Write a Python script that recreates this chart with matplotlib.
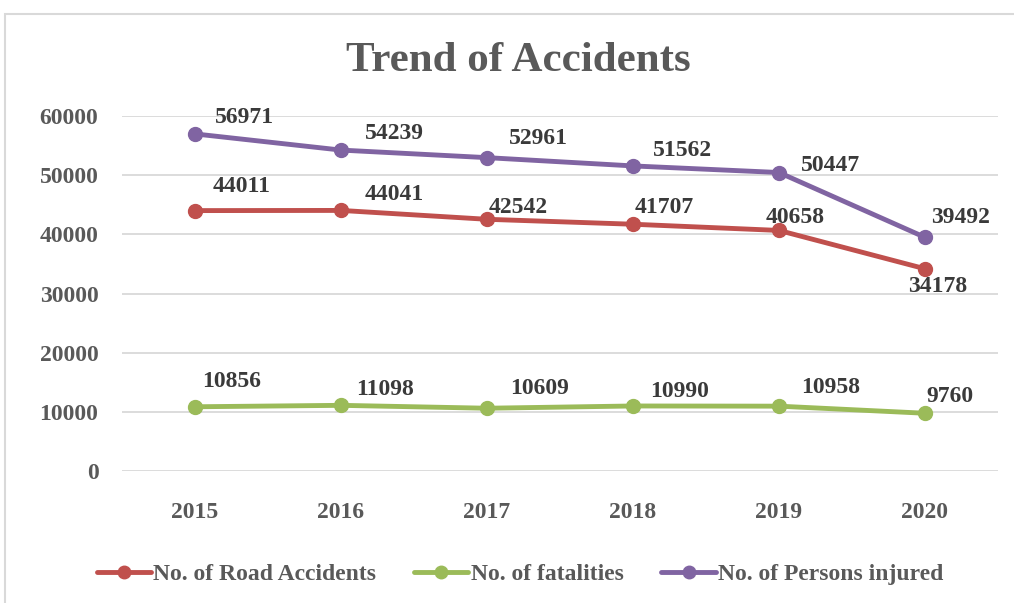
import matplotlib.pyplot as plt
from matplotlib.patches import Rectangle

years = ["2015", "2016", "2017", "2018", "2019", "2020"]
road_accidents = [44011, 44041, 42542, 41707, 40658, 34178]
fatalities = [10856, 11098, 10609, 10990, 10958, 9760]
injured = [56971, 54239, 52961, 51562, 50447, 39492]

series_names = ["No. of Road Accidents", "No. of fatalities", "No. of Persons injured"]
colors = ["#C0504D", "#9BBB59", "#8064A2"]

# label offsets in pixels (dx, dy), hand-placed like in the original
offsets = [
    [(47, 24), (53, 16), (31, 12), (31, 17), (16, 13), (13, -18)],
    [(37, 25), (44, 16), (53, 20), (47, 14), (52, 19), (25, 17)],
    [(49, 16), (53, 17), (51, 19), (50, 15), (52, 7), (36, 20)],
]

plt.rcParams['font.family'] = ['Liberation Serif', 'DejaVu Serif']
plt.rcParams['font.weight'] = 'bold'

fig = plt.figure(figsize=(10.14, 6.03), dpi=100)
fig.patches.append(Rectangle((5 / 1014, -0.1), 1.2, (603 - 14) / 603 + 0.1,
                             transform=fig.transFigure, fill=False,
                             edgecolor="#D9D9D9", linewidth=1.5))
ax = fig.add_axes([122 / 1014, 132 / 603, 876 / 1014, 355 / 603])

x = range(len(years))
all_series = [road_accidents, fatalities, injured]
for vals, name, col, offs in zip(all_series, series_names, colors, offsets):
    ax.plot(x, vals, color=col, linewidth=3.5, marker='o', markersize=10,
            label=name, zorder=3, solid_capstyle='round')
    for i, v in enumerate(vals):
        ax.annotate(str(v), (i, v), xytext=offs[i], textcoords='offset pixels',
                    ha='center', va='center', fontsize=17, fontweight='bold',
                    color='#3A3A3A', zorder=4)

ax.set_xlim(-0.5, 5.5)
ax.set_ylim(0, 60000)
ax.set_yticks(range(0, 60001, 10000))
ax.set_xticks(list(x))
ax.set_xticklabels(years)
ax.grid(axis='y', color='#D9D9D9', linewidth=1.3)
ax.set_axisbelow(True)
for s in ax.spines.values():
    s.set_visible(False)
ax.tick_params(length=0, labelsize=17, labelcolor='#595959')
ax.tick_params(axis='y', pad=17)
ax.tick_params(axis='x', pad=22)

fig.text(518 / 1014, 1 - 61 / 603, "Trend of Accidents", ha='center', va='center',
         fontsize=31, fontweight='bold', color='#595959')

leg = fig.legend(loc='center', bbox_to_anchor=(520 / 1014, 1 - 574 / 603), ncol=3,
                 frameon=False, fontsize=17, handlelength=2.3, handletextpad=0.1,
                 columnspacing=1.6, markerscale=0.9)
for t in leg.get_texts():
    t.set_color('#595959')

fig.savefig("out.png", dpi=100)
